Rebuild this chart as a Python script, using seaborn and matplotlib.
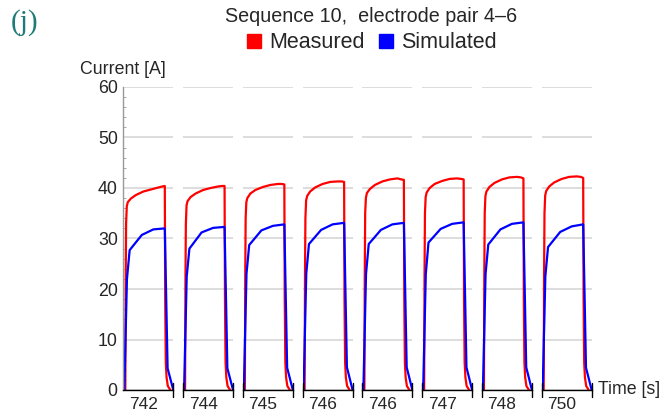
import matplotlib
matplotlib.use('Agg')
import matplotlib.pyplot as plt
import seaborn as sns
from matplotlib.lines import Line2D
from matplotlib.ticker import MultipleLocator

# Pulse windows (one panel per pulse), x in fraction of the window
tick_labels = ['742', '744', '745', '746', '746', '747', '748', '750']
tick_pos = 0.4

red_t = [0.04, 0.048, 0.056, 0.07, 0.09, 0.15, 0.25, 0.40, 0.55, 0.70, 0.78, 0.83,
         0.838, 0.85, 0.865, 0.89, 0.94]
red_tail = [18, 5.5, 2.5, 0.8, 0]
measured = [
    [0, 22, 33, 36.4, 37.2, 37.9, 38.6, 39.3, 39.7, 40.1, 40.3, 40.4] + red_tail,
    [0, 22, 33, 36.6, 37.4, 38.2, 38.9, 39.6, 40.0, 40.3, 40.4, 40.4] + red_tail,
    [0, 22, 34, 37.2, 38.0, 38.9, 39.6, 40.2, 40.6, 40.8, 40.8, 40.7] + red_tail,
    [0, 23, 34, 37.5, 38.4, 39.3, 40.1, 40.8, 41.2, 41.3, 41.3, 41.2] + red_tail,
    [0, 23, 35, 38.0, 39.0, 39.8, 40.6, 41.3, 41.7, 41.9, 41.7, 41.6] + red_tail,
    [0, 23, 35, 38.2, 39.1, 40.0, 40.8, 41.4, 41.8, 41.9, 41.8, 41.7] + red_tail,
    [0, 23, 35, 38.4, 39.3, 40.2, 41.0, 41.7, 42.1, 42.2, 42.1, 41.9] + red_tail,
    [0, 23, 35, 38.5, 39.4, 40.3, 41.1, 41.8, 42.2, 42.3, 42.2, 42.0] + red_tail,
]

blue_t = [0.02, 0.073, 0.127, 0.37, 0.60, 0.83, 0.886, 1.0]
simulated = [
    [0, 22.0, 27.7, 30.7, 31.8, 32.0, 4.3, 0],
    [0, 22.5, 28.0, 31.2, 32.1, 32.3, 4.3, 0],
    [0, 23.0, 28.7, 31.6, 32.5, 32.8, 4.4, 0],
    [0, 23.0, 28.9, 31.7, 32.8, 33.1, 4.5, 0],
    [0, 23.0, 28.9, 31.7, 32.8, 33.1, 4.5, 0],
    [0, 23.0, 29.2, 31.9, 32.9, 33.2, 4.5, 0],
    [0, 23.0, 28.8, 31.8, 32.9, 33.2, 4.5, 0],
    [0, 22.5, 28.3, 31.3, 32.4, 32.8, 4.4, 0],
]

RED = '#ff0000'
BLUE = '#0000ff'

sns.set_style('white')
plt.rcParams['font.family'] = ['Liberation Sans', 'DejaVu Sans']

W, H = 665, 417
fig = plt.figure(figsize=(W / 100, H / 100), dpi=100)

left0, step, pw = 123.3, 59.77, 50.0
y0, y1 = 390.0, 87.0

for i in range(len(tick_labels)):
    ax = fig.add_axes([(left0 + i * step) / W, (H - y0) / H, pw / W, (y0 - y1) / H])
    sns.lineplot(x=red_t, y=measured[i], ax=ax, color=RED, lw=1.6,
                 estimator=None, sort=False)
    sns.lineplot(x=blue_t, y=simulated[i], ax=ax, color=BLUE, lw=1.6,
                 estimator=None, sort=False)
    ax.set_xlim(0, 1)
    ax.set_ylim(0, 60)
    ax.set_xlabel('')
    ax.set_ylabel('')
    ax.yaxis.grid(True, color='#dddddd', lw=1.4)
    ax.set_axisbelow(True)
    for s in ['top', 'right']:
        ax.spines[s].set_visible(False)
    ax.spines['bottom'].set_color('black')
    ax.spines['bottom'].set_linewidth(1.0)
    ax.set_xticks([tick_pos])
    ax.set_xticklabels([tick_labels[i]], fontsize=12.5)
    ax.tick_params(axis='x', direction='in', length=3, width=0.8, color='#444444', pad=5)
    ax.axvline(1, ymin=-0.022, ymax=0.022, color='black', lw=1.0, clip_on=False)
    if i == 0:
        ax.spines['left'].set_color('#999999')
        ax.spines['left'].set_linewidth(1.0)
        ax.set_yticks(range(0, 61, 10))
        ax.yaxis.set_minor_locator(MultipleLocator(2))
        ax.tick_params(axis='y', which='major', direction='in', length=4,
                       color='#999999', labelsize=12.8, pad=4)
        ax.tick_params(axis='y', which='minor', direction='in', length=2,
                       color='#999999', left=True)
    else:
        ax.spines['left'].set_visible(False)
        ax.set_yticks(range(0, 61, 10))
        ax.tick_params(axis='y', left=False, labelleft=False)
        ax.axvline(0, ymin=-0.022, ymax=0.022, color='black', lw=1.0, clip_on=False)

fig.text(371 / W, 1 - 16 / H, 'Sequence 10,  electrode pair 4\u20136', ha='center',
         va='center', fontsize=14.2)
handles = [Line2D([], [], ls='none', marker='s', markersize=9.5, color=RED),
           Line2D([], [], ls='none', marker='s', markersize=9.5, color=BLUE)]
fig.legend(handles, ['Measured', 'Simulated'], loc='center', ncol=2,
           bbox_to_anchor=(371 / W, 1 - 43 / H), frameon=False, fontsize=15.5,
           handletextpad=0.3, columnspacing=0.6, handlelength=0.8)
fig.text(80 / W, 1 - 70 / H, 'Current [A]', ha='left', va='center', fontsize=12.8)
fig.text(598 / W, 1 - 389 / H, 'Time [s]', ha='left', va='center', fontsize=12.8)
fig.text(11 / W, 1 - 23 / H, '(j)', ha='left', va='center', fontsize=21,
         color='#1f7a78', family=['Liberation Serif', 'DejaVu Serif'])

fig.savefig('out.png', dpi=100)
